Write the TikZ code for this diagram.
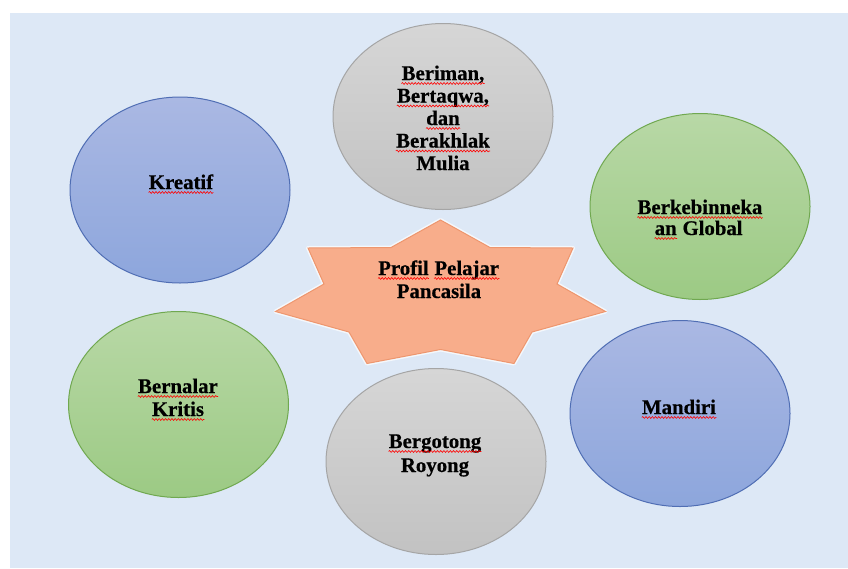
\documentclass[tikz,border=0pt]{standalone}
\usepackage{fontspec}
\setmainfont{Liberation Serif}[BoldFeatures={FakeBold=0.5}]
\usetikzlibrary{shapes.geometric,decorations.pathmorphing}
\definecolor{bgblue}{RGB}{221,232,246}
\definecolor{bluetop}{RGB}{170,184,227}
\definecolor{bluebot}{RGB}{141,166,220}
\definecolor{blueline}{RGB}{80,110,180}
\definecolor{greentop}{RGB}{184,216,166}
\definecolor{greenbot}{RGB}{156,202,132}
\definecolor{greenline}{RGB}{112,168,80}
\definecolor{graytop}{RGB}{214,214,214}
\definecolor{graybot}{RGB}{194,194,194}
\definecolor{grayline}{RGB}{165,165,165}
\definecolor{starfill}{RGB}{248,173,139}
\definecolor{starline}{RGB}{238,150,110}
\tikzset{
  oval/.style={ellipse, minimum width=165pt, minimum height=139.5pt, inner sep=0pt, line width=0.75pt},
  blueoval/.style={oval, draw=blueline, top color=bluetop, bottom color=bluebot},
  greenoval/.style={oval, draw=greenline, top color=greentop, bottom color=greenbot},
  grayoval/.style={oval, draw=grayline, top color=graytop, bottom color=graybot},
  ln/.style={anchor=base, inner sep=0pt, font=\fontsize{15.6}{18}\selectfont\bfseries, text=black},
  squig/.style={draw=red, line width=0.45pt, decorate, decoration={snake, segment length=2.4pt, amplitude=0.7pt}}
}
\newcommand\squiggle[1]{\draw[squig] ([yshift=-2.6pt]#1.base west) -- ([yshift=-2.6pt]#1.base east);}
\begin{document}
\begin{tikzpicture}[x=0.75pt, y=-0.75pt]
\useasboundingbox (0,0) rectangle (848,568);
\fill[white] (0,0) rectangle (848,568);
\fill[bgblue] (10,13) rectangle (848,568);

% star
\draw[white, opacity=0.7, line width=3pt, line join=round]
  (440.5,220) -- (490,247.5) -- (573,248) -- (557,284) -- (605.5,311.5) -- (532,332) -- (514,363.5) -- (440.5,349.5) -- (367,363.5) -- (349,332) -- (275.5,311.5) -- (324,284) -- (308,248) -- (391,247.5) -- cycle;
\draw[starline, fill=starfill, line width=0.75pt, line join=miter]
  (440.5,220) -- (490,247.5) -- (573,248) -- (557,284) -- (605.5,311.5) -- (532,332) -- (514,363.5) -- (440.5,349.5) -- (367,363.5) -- (349,332) -- (275.5,311.5) -- (324,284) -- (308,248) -- (391,247.5) -- cycle;
\node[ln, anchor=base west] (sprofil) at (378,275) {Profil};
\node[ln, anchor=base west] (spelajar) at ([xshift=3.9pt]sprofil.base east) {Pelajar};
\node[ln] (spanc) at (439,298) {Pancasila};

% ellipses
\node[grayoval]  (beriman)   at (443,116.5) {};
\node[blueoval]  (kreatif)   at (180,190) {};
\node[greenoval] (berk)      at (700,206.5) {};
\node[greenoval] (bernalar)  at (178.5,404.5) {};
\node[blueoval]  (mandiri)   at (680,413.5) {};
\node[grayoval]  (bergotong) at (436,461.5) {};

% texts
\node[ln] (b1) at (443,80) {Beriman,};
\node[ln] (b2) at (443,102.5) {Bertaqwa,};
\node[ln] (b3) at (443,125) {dan};
\node[ln] (b4) at (443,147.5) {Berakhlak};
\node[ln] (b5) at (443,170) {Mulia};
\node[ln] (k1) at (181,189) {Kreatif};
\node[ln] (g1) at (700,214) {Berkebinneka};
\node[ln, anchor=base west] (g2) at (654.5,235) {an};
\node[ln, anchor=base west] (g3) at ([xshift=3.9pt]g2.base east) {Global};
\node[ln] (n1) at (178,393) {Bernalar};
\node[ln] (n2) at (178,416) {Kritis};
\node[ln] (m1) at (679,414) {Mandiri};
\node[ln] (r1) at (435,448) {Bergotong};
\node[ln] (r2) at (435,472) {Royong};

% spell-check squiggles
\squiggle{sprofil}
\squiggle{spelajar}
\squiggle{b1}
\squiggle{b2}
\squiggle{b3}
\squiggle{b4}
\squiggle{k1}
\squiggle{g1}
\squiggle{g2}
\squiggle{n1}
\squiggle{n2}
\squiggle{m1}
\squiggle{r1}
\end{tikzpicture}
\end{document}
